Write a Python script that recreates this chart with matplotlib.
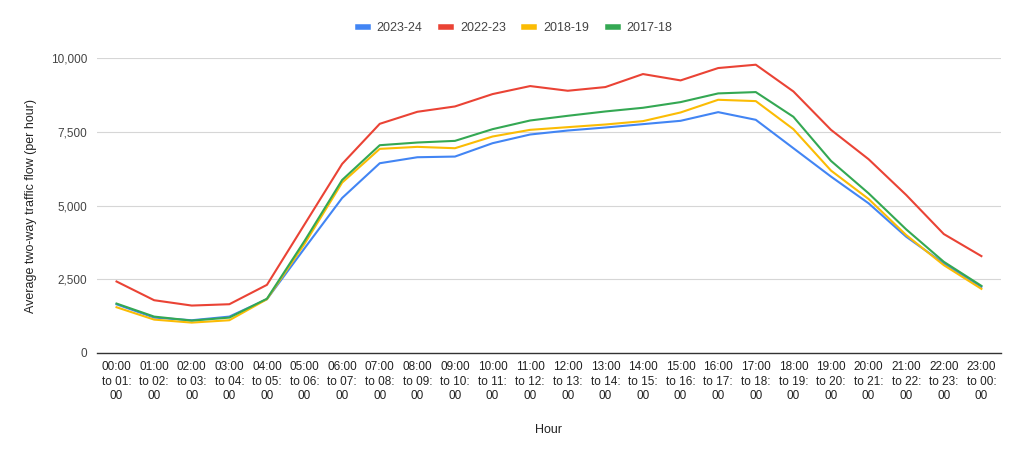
import matplotlib.pyplot as plt
from matplotlib.ticker import FuncFormatter

plt.rcParams['font.family'] = ['Liberation Sans', 'DejaVu Sans']

# hours of the day
hours = ['%02d:00\nto %02d:\n00' % (h, (h + 1) % 24) for h in range(24)]

# average two-way traffic flow per hour
flow_2023_24 = [1650, 1200, 1110, 1234, 1823, 3550, 5255, 6433, 6636, 6659, 7112, 7407,
                7542, 7644, 7758, 7871, 8165, 7905, 6942, 5980, 5074, 3941, 3035, 2242]
flow_2022_23 = [2424, 1789, 1608, 1653, 2310, 4360, 6410, 7769, 8177, 8358, 8777, 9049,
                8890, 9015, 9456, 9241, 9660, 9773, 8867, 7565, 6569, 5357, 4032, 3284]
flow_2018_19 = [1551, 1132, 1030, 1110, 1823, 3700, 5776, 6920, 6988, 6942, 7339, 7565,
                7656, 7746, 7860, 8154, 8584, 8539, 7588, 6184, 5221, 3998, 2978, 2174]
flow_2017_18 = [1676, 1234, 1098, 1200, 1840, 3800, 5866, 7044, 7135, 7191, 7588, 7882,
                8041, 8188, 8313, 8505, 8800, 8845, 8007, 6512, 5413, 4190, 3092, 2276]

series = [('2023-24', flow_2023_24, '#4285F4'),
          ('2022-23', flow_2022_23, '#EA4335'),
          ('2018-19', flow_2018_19, '#FBBC04'),
          ('2017-18', flow_2017_18, '#34A853')]

fig = plt.figure(figsize=(10.24, 4.55), dpi=100)
ax = fig.add_axes([0.0947, 0.2242, 0.8828, 0.6483])

x = range(len(hours))
for name, vals, col in series:
    ax.plot(x, vals, color=col, linewidth=1.5, label=name)

ax.set_xlim(-0.52, 23.52)
ax.set_ylim(0, 10000)
ax.set_yticks([0, 2500, 5000, 7500, 10000])
ax.yaxis.set_major_formatter(FuncFormatter(lambda v, p: '{:,.0f}'.format(v)))
ax.set_xticks(list(x))
ax.set_xticklabels(hours, fontsize=8.5, color='#222222', linespacing=1.25)
ax.tick_params(axis='y', labelsize=8.5, labelcolor='#444444', length=0, pad=7)
ax.tick_params(axis='x', length=0, pad=6)

ax.grid(axis='y', color='#d6d6d6', linewidth=0.8)
ax.set_axisbelow(True)
for s in ['top', 'right', 'left']:
    ax.spines[s].set_visible(False)
ax.spines['bottom'].set_color('#333333')
ax.spines['bottom'].set_linewidth(1.0)

ax.set_xlabel('Hour', fontsize=9, color='#222222', labelpad=16)
ax.set_ylabel('Average two-way traffic flow (per hour)', fontsize=9, color='#222222', labelpad=10)

fig.legend(loc='center', bbox_to_anchor=(0.503, 0.938), ncol=4, frameon=False,
           fontsize=9, handlelength=0.8, handletextpad=0.7, columnspacing=1.5,
           labelcolor='#444444')
for h in fig.legends[0].get_lines():
    h.set_linewidth(4)

fig.savefig('out.png', dpi=100, facecolor='white')
